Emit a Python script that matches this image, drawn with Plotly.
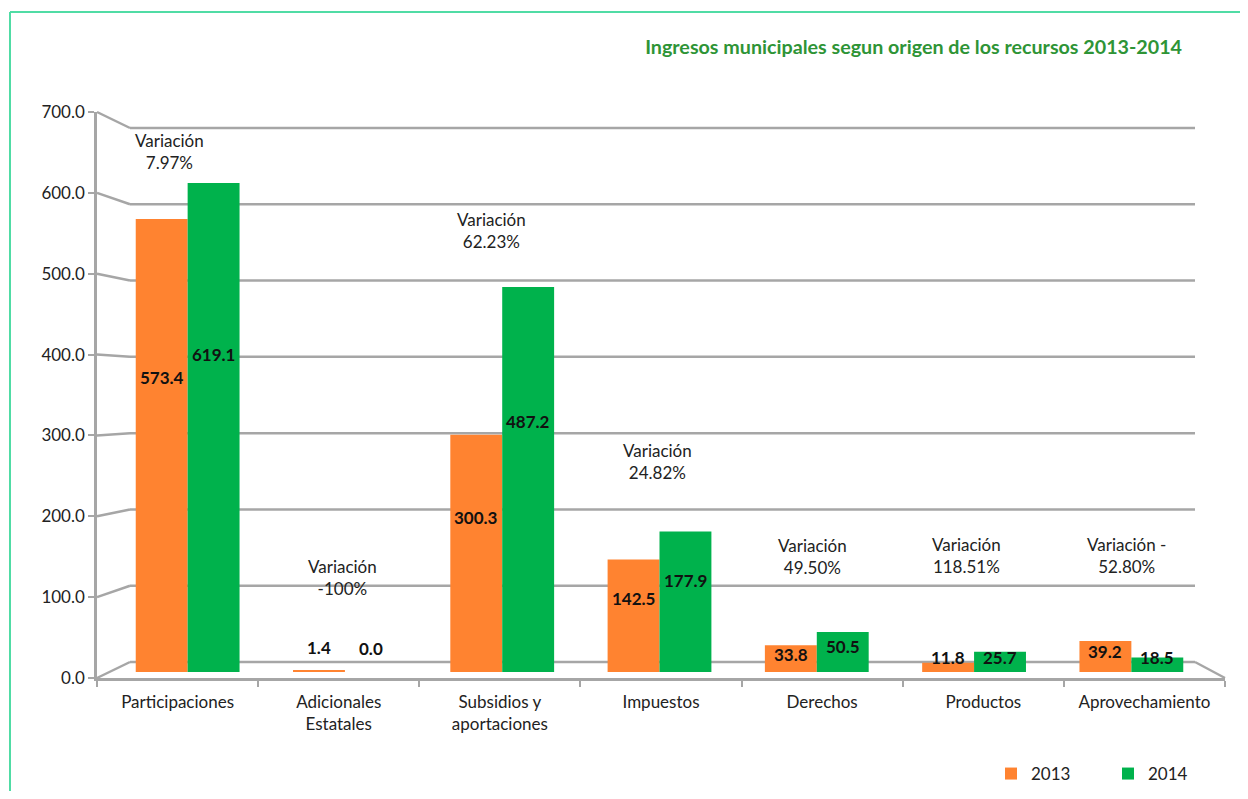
import plotly.graph_objects as go

categories = ["Participaciones", "Adicionales<br>Estatales", "Subsidios y<br>aportaciones",
              "Impuestos", "Derechos", "Productos", "Aprovechamiento"]
values_2013 = [573.4, 1.4, 300.3, 142.5, 33.8, 11.8, 39.2]
values_2014 = [619.1, 0.0, 487.2, 177.9, 50.5, 25.7, 18.5]
variation_text = ["Variación<br>7.97%", "Variación<br>-100%", "Variación<br>62.23%",
                  "Variación<br>24.82%", "Variación<br>49.50%", "Variación<br>118.51%",
                  "Variación -<br>52.80%"]
y_ticks = [0, 100, 200, 300, 400, 500, 600, 700]

ORANGE = "#FF8330"
GREEN = "#00B24C"
GRID = "#A6A6A6"
FONT = "Lato"
YMAX = 700

# ---- geometry (plot area = front face of the 3D box) ----
W, H = 1232, 783               # page has 8px body margin
L, R, T, B = 89, 15, 104, 113  # plot area: x 89..1217, y 104..670 (figure px)
pw, ph = W - L - R, H - T - B

def px_x(p):   # figure px -> paper x
    return (p - L) / pw

def px_y(p):   # figure px -> paper y
    return (H - B - p) / ph

# back wall (gridlines) and bar plane, expressed as paper fractions
back_x0, back_x1 = px_x(122), px_x(1187)
back_y0, back_y1 = px_y(654), px_y(120)
bar_y0, bar_y1 = px_y(664), px_y(111)
bar_x0, bar_x1 = px_x(101), px_x(1202)

fig = go.Figure()
# invisible trace to keep the front (tick) axes alive
fig.add_trace(go.Scatter(x=categories, y=[0] * len(categories), xaxis="x", yaxis="y",
                         mode="markers", marker=dict(opacity=0), showlegend=False,
                         hoverinfo="skip"))
fig.add_trace(go.Bar(x=categories, y=values_2013, name="2013", marker_color=ORANGE,
                     marker_line_width=0, xaxis="x2", yaxis="y2"))
fig.add_trace(go.Bar(x=categories, y=values_2014, name="2014", marker_color=GREEN,
                     marker_line_width=0, xaxis="x2", yaxis="y2"))

# value labels (bold)
def label_y(v):
    if v < 5:
        return v + 30
    return max(v * 0.65, 18)

for i, cat in enumerate(categories):
    for v, shift in ((values_2013[i], -26), (values_2014[i], 26)):
        fig.add_annotation(x=cat, y=label_y(v), xref="x2", yref="y2", text=f"<b>{v:.1f}</b>",
                           showarrow=False, xshift=shift,
                           font=dict(family=FONT, size=17, color="#111"))

# variation annotations
var_pos = [651, 124, 554, 268, 150, 152, 152]
var_shift = [-8, 4, -8, -4, -10, -17, -18]
for cat, t, yp, xs in zip(categories, variation_text, var_pos, var_shift):
    fig.add_annotation(x=cat, y=yp, xref="x", yref="y", text=t, showarrow=False, xshift=xs,
                       font=dict(family=FONT, size=17, color="#222"))

# back-wall gridlines with perspective connectors
for t in y_ticks:
    fy = t / YMAX
    by = back_y0 + fy * (back_y1 - back_y0)
    fig.add_shape(type="line", xref="paper", yref="paper", x0=back_x0, x1=back_x1, y0=by, y1=by,
                  line=dict(color=GRID, width=2.5), layer="below")
    fig.add_shape(type="line", xref="paper", yref="paper", x0=0, x1=back_x0, y0=fy, y1=by,
                  line=dict(color=GRID, width=2.5), layer="below")
# floor right edge
fig.add_shape(type="line", xref="paper", yref="paper", x0=1, x1=back_x1, y0=0, y1=back_y0,
              line=dict(color=GRID, width=2.5), layer="below")

# outer border (top and left edges)
fig.add_shape(type="line", xref="paper", yref="paper", x0=px_x(2), x1=px_x(1300), y0=px_y(4), y1=px_y(4),
              line=dict(color="#50DCA5", width=2))
fig.add_shape(type="line", xref="paper", yref="paper", x0=px_x(2), x1=px_x(2), y0=px_y(900), y1=px_y(4),
              line=dict(color="#50DCA5", width=2))

fig.update_layout(
    width=W, height=H,
    margin=dict(l=L, r=R, t=T, b=B, autoexpand=False),
    paper_bgcolor="white", plot_bgcolor="rgba(0,0,0,0)",
    barmode="group", bargap=0.34, bargroupgap=0,
    font=dict(family=FONT, size=17, color="#222"),
    title=dict(text="<b>Ingresos municipales segun origen de los recursos 2013-2014</b>",
               x=1174 / W, xanchor="right", xref="container", y=1 - 39 / H, yanchor="middle",
               font=dict(family=FONT, size=19.7, color="#2E9436")),
    legend=dict(orientation="h", x=px_x(983), y=px_y(766), xanchor="left", yanchor="middle",
                font=dict(family=FONT, size=17, color="#222"), itemwidth=30, entrywidth=72,
                traceorder="normal"),
    xaxis=dict(domain=[0, 1], type="category", categoryorder="array", categoryarray=categories,
               range=[-0.5, len(categories) - 0.5], automargin=False,
               showline=True, linecolor=GRID, linewidth=2.5, ticks="outside",
               tickson="boundaries", tickcolor=GRID, ticklen=6, tickwidth=1.5,
               ticklabelstandoff=7,
               tickfont=dict(family=FONT, size=17, color="#222"), showgrid=False, fixedrange=True),
    xaxis2=dict(domain=[bar_x0, bar_x1], anchor="y2", visible=False, type="category",
                categoryorder="array", categoryarray=categories, automargin=False,
                range=[-0.5, len(categories) - 0.5]),
    yaxis=dict(domain=[0, 1], range=[0, YMAX], tickvals=y_ticks, automargin=False,
               ticktext=[f"{t:.1f}" for t in y_ticks], showgrid=False, zeroline=False,
               showline=True, linecolor=GRID, linewidth=2.5, ticks="outside",
               tickcolor=GRID, ticklen=6, tickwidth=2,
               tickfont=dict(family=FONT, size=17, color="#222")),
    yaxis2=dict(domain=[bar_y0, bar_y1], range=[0, YMAX], anchor="x2", visible=False,
                automargin=False),
)

fig.write_html("out.html")
